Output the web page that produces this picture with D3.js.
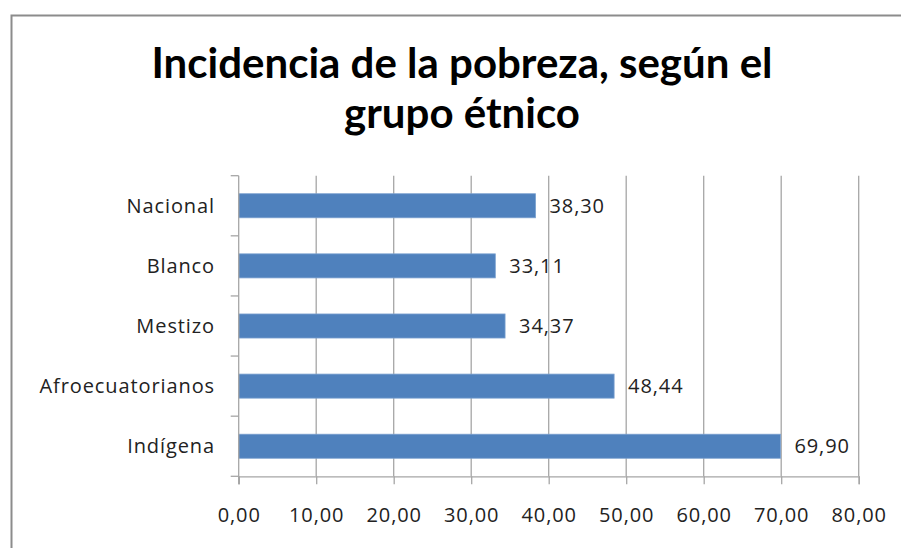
<html>
  <head>
    <meta charset="utf-8">
    <title>Incidencia de la pobreza</title>
    <script src="https://cdn.jsdelivr.net/npm/d3@7"></script>
    <style>
      body { margin: 0; background: #fff; }
      text { font-family: "Open Sans", Lato, sans-serif; fill: #222; }
      .small { font-size: 20px; letter-spacing: 0.9px; }
    </style>
  </head>
  <body>
    <svg></svg>
    <script>
      'use strict';

      // data
      let categories = ["Nacional", "Blanco", "Mestizo", "Afroecuatorianos", "Indígena"];
      let values = [38.30, 33.11, 34.37, 48.44, 69.90];
      let tickValues = [0, 10, 20, 30, 40, 50, 60, 70, 80];
      let titleLines = ["Incidencia de la pobreza, según el", "grupo étnico"];

      let w = 901, h = 548;
      let plotLeft = 238.7, plotRight = 858.7, plotTop = 175.7, plotBottom = 476.3;

      let svg = d3.select("svg").attr("width", w).attr("height", h);

      // chart border (top and left visible)
      svg.append("path")
        .attr("d", "M11.5,548 V15.5 H901")
        .attr("fill", "none")
        .attr("stroke", "#8c8c8c")
        .attr("stroke-width", 2);

      // title
      svg.selectAll(".title")
        .data(titleLines)
        .enter()
        .append("text")
        .attr("class", "title")
        .attr("x", 462)
        .attr("y", function (d, i) { return 78 + i * 50; })
        .attr("text-anchor", "middle")
        .style("font-family", "Lato, sans-serif")
        .style("font-size", "42px")
        .style("font-weight", "bold")
        .style("fill", "#000")
        .text(function (d) { return d; });

      let x = d3.scaleLinear().domain([0, 80]).range([plotLeft, plotRight]);
      let y = d3.scaleBand().domain(categories).range([plotTop, plotBottom])
        .paddingInner(0.6).paddingOuter(0.3);

      let fmt = function (v) { return v.toFixed(2).replace(".", ","); };

      // vertical gridlines
      svg.selectAll(".grid")
        .data(tickValues.slice(1))
        .enter()
        .append("line")
        .attr("x1", function (d) { return x(d); })
        .attr("x2", function (d) { return x(d); })
        .attr("y1", plotTop)
        .attr("y2", plotBottom)
        .attr("stroke", "#a6a6a6")
        .attr("stroke-width", 1.3);

      // bars
      svg.selectAll(".bar")
        .data(values)
        .enter()
        .append("rect")
        .attr("x", x(0))
        .attr("y", function (d, i) { return y(categories[i]); })
        .attr("width", function (d) { return x(d) - x(0); })
        .attr("height", y.bandwidth())
        .attr("fill", "#4f81bd")
        .attr("stroke", "#7aa0cf")
        .attr("stroke-width", 0.8);

      // data labels
      svg.selectAll(".lbl")
        .data(values)
        .enter()
        .append("text")
        .attr("class", "small")
        .attr("x", function (d) { return x(d) + 14; })
        .attr("y", function (d, i) { return y(categories[i]) + y.bandwidth() / 2; })
        .attr("dy", "0.36em")
        .text(function (d) { return fmt(d); });

      // x axis
      let xAxis = svg.append("g")
        .attr("transform", "translate(0," + plotBottom + ")")
        .call(d3.axisBottom(x).tickValues(tickValues).tickSize(8).tickPadding(24)
          .tickFormat(fmt));
      xAxis.select(".domain").attr("stroke", "#a6a6a6").attr("stroke-width", 1.3);
      xAxis.selectAll(".tick line").attr("stroke", "#a6a6a6").attr("stroke-width", 1.3);
      xAxis.selectAll("text").attr("class", "small").attr("font-size", null)
        .attr("font-family", null).attr("fill", "#222");

      // y axis: ticks at the band boundaries
      let step = y.step();
      svg.append("line")
        .attr("x1", plotLeft).attr("x2", plotLeft)
        .attr("y1", plotTop).attr("y2", plotBottom + 8)
        .attr("stroke", "#a6a6a6").attr("stroke-width", 1.3);
      svg.selectAll(".ytick")
        .data(d3.range(categories.length + 1))
        .enter()
        .append("line")
        .attr("x1", plotLeft - 8)
        .attr("x2", plotLeft)
        .attr("y1", function (d) { return plotTop + d * step; })
        .attr("y2", function (d) { return plotTop + d * step; })
        .attr("stroke", "#a6a6a6").attr("stroke-width", 1.3);

      svg.selectAll(".cat")
        .data(categories)
        .enter()
        .append("text")
        .attr("class", "small")
        .attr("x", 215)
        .attr("y", function (d) { return y(d) + y.bandwidth() / 2; })
        .attr("dy", "0.36em")
        .attr("text-anchor", "end")
        .text(function (d) { return d; });
    </script>
  </body>
</html>
